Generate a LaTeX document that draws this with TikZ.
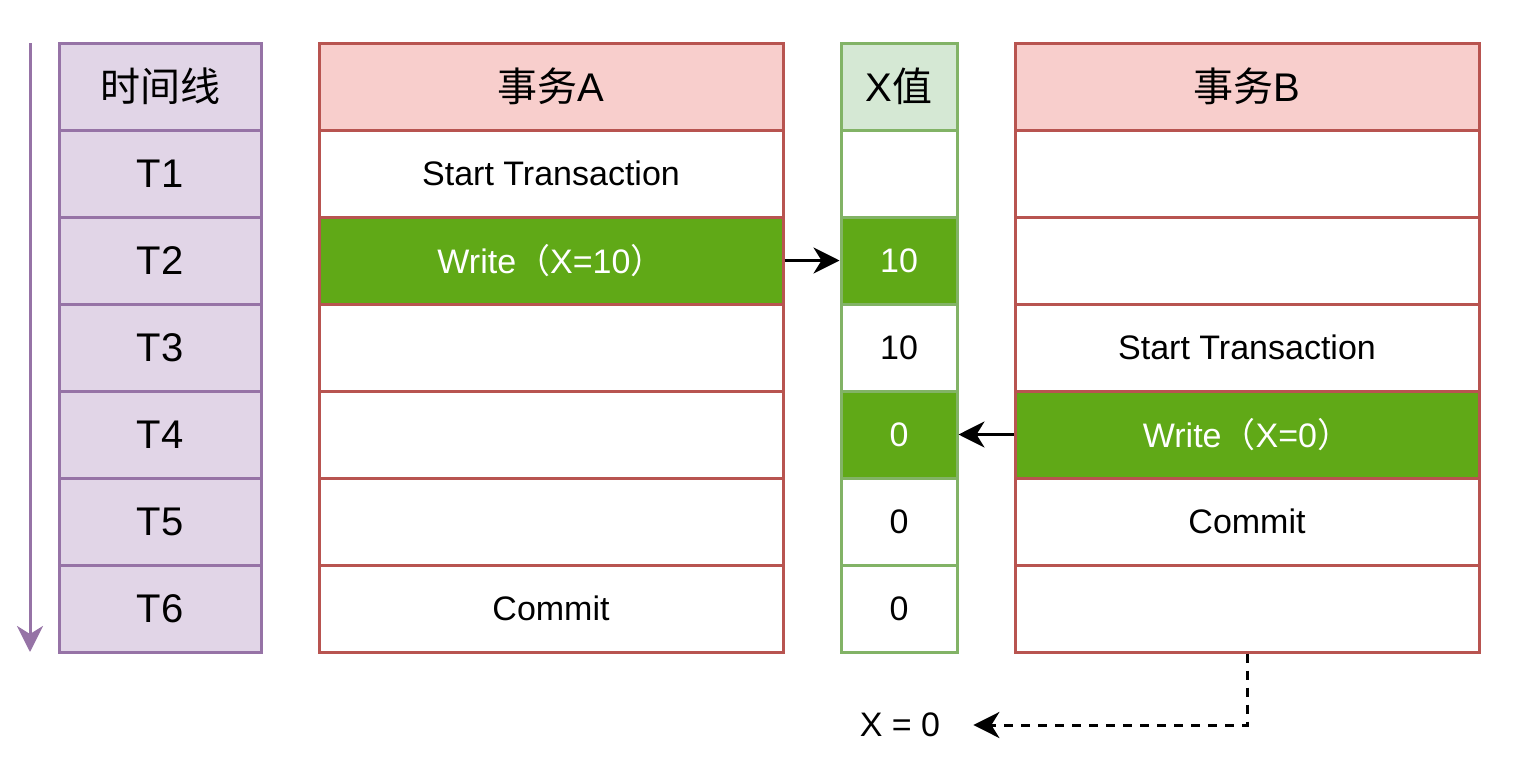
\documentclass[tikz,border=0pt]{standalone}
\usepackage{fontspec}
\setmainfont{Liberation Sans}
\newfontfamily\cjk{Noto Sans CJK SC}
\usetikzlibrary{arrows.meta}
\definecolor{purpleF}{HTML}{E1D5E7}
\definecolor{purpleD}{HTML}{9673A6}
\definecolor{redF}{HTML}{F8CECC}
\definecolor{redD}{HTML}{B85450}
\definecolor{greenF}{HTML}{D5E8D4}
\definecolor{greenD}{HTML}{82B366}
\definecolor{okF}{HTML}{60A917}
\begin{document}
\begin{tikzpicture}[x=1pt,y=-1pt,
  cell/.style={draw, line width=3pt, rectangle, inner sep=0pt, minimum height=87pt,
    font=\fontsize{34}{40}\selectfont},
  bigtext/.style={font=\fontsize{40}{48}\selectfont},
  tcell/.style={cell, draw=purpleD, fill=purpleF, minimum width=202pt, bigtext},
  acell/.style={cell, draw=redD, fill=white, minimum width=464pt},
  ahead/.style={acell, fill=redF, bigtext},
  xcell/.style={cell, draw=greenD, fill=white, minimum width=116pt},
  xhead/.style={xcell, fill=greenF, bigtext},
  hot/.style={fill=okF, text=white},
  conn/.style={line width=3pt, -{Stealth[length=26pt,width=26pt,inset=8pt]}},
  tline/.style={draw=purpleD, line width=3pt, -{Stealth[length=26pt,width=26pt,inset=8pt]}},
  dconn/.style={line width=3pt, dash pattern=on 9pt off 8pt, -{Stealth[length=26pt,width=26pt,inset=8pt]}},
  lbl/.style={font=\fontsize{34}{40}\selectfont, inner ysep=0pt, inner xsep=33pt}
]
\useasboundingbox (0,0) rectangle (1526,771);

% timeline arrow
\coordinate (tls) at (30,43);
\coordinate (tle) at (30,652);
\draw[tline] (tls) -- (tle);

% time column
\node[tcell] (t0) at (160,86.5) {{\cjk 时间线}};
\node[tcell] (t1) at (160,173.5) {T1};
\node[tcell] (t2) at (160,260.5) {T2};
\node[tcell] (t3) at (160,347.5) {T3};
\node[tcell] (t4) at (160,434.5) {T4};
\node[tcell] (t5) at (160,521.5) {T5};
\node[tcell] (t6) at (160,608.5) {T6};

% transaction A
\node[ahead] (a0) at (551,86.5) {{\cjk 事务}A};
\node[acell] (a1) at (551,173.5) {Start Transaction};
\node[acell] (a3) at (551,347.5) {};
\node[acell] (a4) at (551,434.5) {};
\node[acell] (a5) at (551,521.5) {};
\node[acell] (a6) at (551,608.5) {Commit};
\node[acell,hot] (a2) at (551,260.5) {Write{\cjk （}X=10{\cjk ）}};

% X value
\node[xhead] (x0) at (899,86.5) {X{\cjk 值}};
\node[xcell] (x1) at (899,173.5) {};
\node[xcell] (x3) at (899,347.5) {10};
\node[xcell] (x5) at (899,521.5) {0};
\node[xcell] (x6) at (899,608.5) {0};
\node[xcell,hot] (x2) at (899,260.5) {10};
\node[xcell,hot] (x4) at (899,434.5) {0};

% transaction B
\node[ahead] (b0) at (1247,86.5) {{\cjk 事务}B};
\node[acell] (b1) at (1247,173.5) {};
\node[acell] (b2) at (1247,260.5) {};
\node[acell] (b3) at (1247,347.5) {Start Transaction};
\node[acell] (b5) at (1247,521.5) {Commit};
\node[acell] (b6) at (1247,608.5) {};
\node[acell,hot] (b4) at (1247,434.5) {Write{\cjk （}X=0{\cjk ）}};

% connectors
\draw[conn] (a2.east) -- (x2.west);
\draw[conn] (b4.west) -- (x4.east);

\node[lbl] (xres) at (900,725) {X = 0};
\draw[dconn] (b6.south) |- (xres.east);
\end{tikzpicture}
\end{document}
